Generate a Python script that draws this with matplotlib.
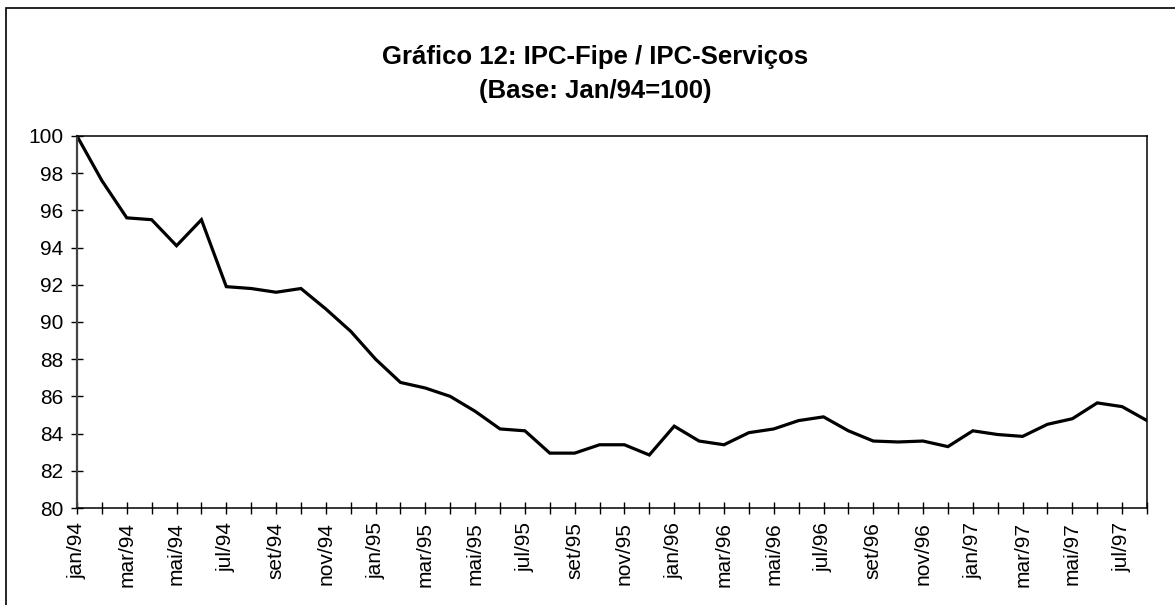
import matplotlib
matplotlib.use("Agg")
import matplotlib.pyplot as plt
from matplotlib.patches import Rectangle

# dados (jan/94 = 100)
meses = ['jan', 'fev', 'mar', 'abr', 'mai', 'jun', 'jul', 'ago', 'set', 'out', 'nov', 'dez']
rotulos = [f"{m}/{a}" for a in ['94', '95', '96', '97'] for m in meses][:44]
valores = [100.0, 97.6, 95.6, 95.5, 94.1, 95.5, 91.9, 91.8, 91.6, 91.8,
           90.7, 89.5, 88.0, 86.75, 86.45, 86.0, 85.2, 84.25, 84.15, 82.95,
           82.95, 83.4, 83.4, 82.85, 84.4, 83.6, 83.4, 84.05, 84.25, 84.7,
           84.9, 84.15, 83.6, 83.55, 83.6, 83.3, 84.15, 83.95, 83.85, 84.5,
           84.8, 85.65, 85.45, 84.7]

plt.rcParams['font.family'] = ['Liberation Sans', 'DejaVu Sans']

fig = plt.figure(figsize=(11.75, 6.05), dpi=100)
W, H = 1175, 605
ax = fig.add_axes([77 / W, 1 - 508 / H, (1147 - 77) / W, (508 - 136) / H])

x = list(range(len(valores)))
ax.plot(x, valores, color='black', linewidth=2.3, solid_joinstyle='miter')

ax.set_xlim(0, len(valores) - 1)
ax.set_ylim(80, 100)
ax.set_yticks(range(80, 101, 2))
ax.set_xticks(x[::2])
ax.set_xticklabels(rotulos[::2], rotation=90)
ax.set_xticks(x[1::2], minor=True)
ax.tick_params(axis='both', which='both', direction='inout', length=8, width=1,
               labelsize=15, color='black')
ax.tick_params(axis='x', which='both', pad=6)
ax.tick_params(axis='y', pad=6)
for s in ax.spines.values():
    s.set_linewidth(1.1)
ax.spines['left'].set_color('#444444')
ax.spines['left'].set_linewidth(1.6)

fig.text(595 / W, 1 - 57 / H, 'Gráfico 12: IPC-Fipe / IPC-Serviços',
         ha='center', va='center', fontsize=18.5, fontweight='bold')
fig.text(595 / W, 1 - 91 / H, '(Base: Jan/94=100)',
         ha='center', va='center', fontsize=18.5, fontweight='bold')

# borda da área do gráfico
fig.patches.append(Rectangle((6 / W, -0.1), 1.2, 1 - 8 / H + 0.1,
                             transform=fig.transFigure, fill=False,
                             edgecolor='black', linewidth=1.2))

fig.savefig('out.png', dpi=100)
